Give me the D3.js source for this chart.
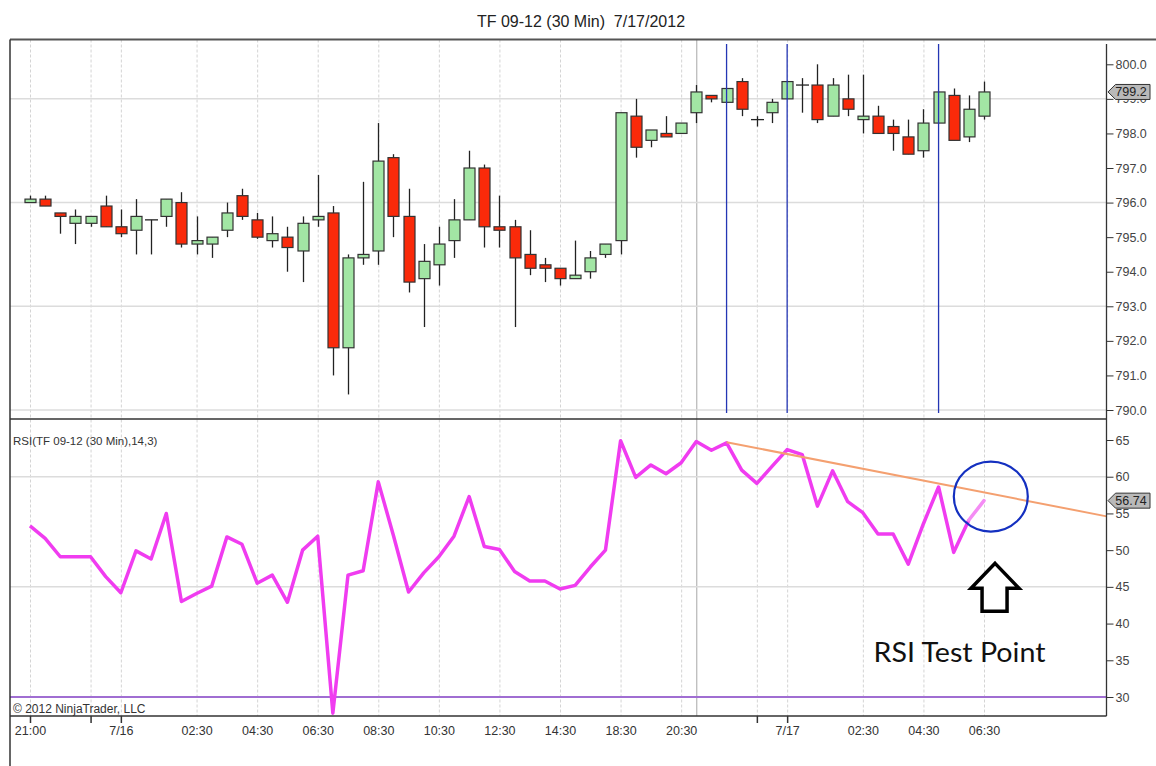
<!DOCTYPE html>
<html>
<head>
<meta charset="utf-8">
<script src="https://cdn.jsdelivr.net/npm/d3@7"></script>
<style>
  body { margin: 0; background: #fff; }
  svg { display: block; font-family: "Liberation Sans", Arial, sans-serif; }
</style>
</head>
<body>
<div class="svg"></div>
<script>
// bar times (30 min bars)
var times = ["21:00","21:30","22:00","22:30","23:00","23:30","00:00","00:30","01:00","01:30",
  "02:00","02:30","03:00","03:30","04:00","04:30","05:00","05:30","06:00","06:30",
  "07:00","07:30","08:00","08:30","09:00","09:30","10:00","10:30","11:00","11:30",
  "12:00","12:30","13:00","13:30","14:00","14:30","15:00","15:15","18:00","18:30",
  "19:00","19:30","20:00","20:30","21:00","21:30","22:00","22:30","23:00","23:30",
  "00:00","00:30","01:00","01:30","02:00","02:30","03:00","03:30","04:00","04:30",
  "05:00","05:30","06:00","06:30"];

var opens = [796.0,796.1,795.7,795.4,795.4,795.9,795.3,795.2,795.5,795.6,
  796.0,794.8,794.8,795.2,796.2,795.5,794.9,795.0,794.6,795.5,
  795.7,791.8,794.4,794.6,797.3,795.6,793.8,794.2,794.9,795.5,
  797.0,795.3,795.3,794.5,794.2,794.1,793.8,794.0,794.5,794.9,
  798.5,797.8,798.0,798.0,798.6,799.1,798.9,799.5,798.4,798.6,
  799.0,799.4,799.4,798.5,799.0,798.4,798.5,798.2,797.9,797.5,
  798.3,799.1,797.9,798.5];

var highs = [796.2,796.2,795.7,795.8,795.6,796.2,795.8,796.1,795.5,796.1,
  796.3,795.6,795.0,796.0,796.4,795.7,795.6,795.3,795.6,796.8,
  795.9,794.5,796.6,798.3,797.4,796.4,794.8,795.3,796.1,797.5,
  797.1,796.2,795.5,795.2,794.4,794.1,794.9,794.6,794.8,798.6,
  799.0,798.1,798.5,798.3,799.4,799.1,799.3,799.6,798.5,799.0,
  799.5,799.6,800.0,799.6,799.7,799.7,798.8,798.4,798.4,798.7,
  799.2,799.3,799.1,799.5];

var lows = [796.0,795.9,795.1,794.8,795.3,795.3,795.0,794.5,794.5,795.3,
  794.7,794.5,794.4,795.0,795.5,794.95,794.7,794.0,793.7,795.3,
  791.0,790.45,794.2,794.2,795.0,793.4,792.4,793.6,794.4,795.5,
  794.7,794.7,792.4,793.9,793.7,793.6,793.8,793.8,794.4,794.5,
  797.3,797.6,797.9,798.0,798.3,798.9,798.9,798.5,798.2,798.3,
  799.0,798.6,798.3,798.5,798.5,798.0,798.0,797.5,797.4,797.3,
  798.3,797.8,797.75,798.4];

var closes = [796.1,795.9,795.6,795.6,795.6,795.3,795.1,795.6,795.5,796.1,
  794.8,794.9,795.0,795.7,795.6,795.0,795.1,794.7,795.4,795.6,
  791.8,794.4,794.5,797.2,795.6,793.7,794.3,794.8,795.5,797.0,
  795.3,795.2,794.4,794.1,794.1,793.8,793.9,794.4,794.8,798.6,
  797.6,798.1,797.9,798.3,799.2,799.0,799.3,798.7,798.4,798.9,
  799.5,799.4,798.4,799.4,798.7,798.5,798.0,798.0,797.4,798.3,
  799.2,797.8,798.7,799.2];

var rsi = [53.3,51.6,49.1,49.1,49.1,46.4,44.2,49.9,48.8,55.0,
  43.0,44.1,45.1,51.8,50.8,45.5,46.6,42.9,50.0,51.9,
  27.8,46.6,47.2,59.3,52.0,44.3,46.9,49.1,51.9,57.3,
  50.5,50.1,47.1,45.8,45.8,44.7,45.2,47.7,50.0,64.9,
  59.9,61.6,60.4,61.9,64.8,63.6,64.6,60.9,59.1,61.4,
  63.7,63.0,56.0,60.8,56.6,55.1,52.2,52.2,48.1,53.6,
  58.6,49.7,54.1,56.74];

// axis ticks
var xTickIdx = [0,6,11,15,19,23,27,31,35,39,43,50,55,59,63];
var xTickLabels = ["21:00","7/16","02:30","04:30","06:30","08:30","10:30","12:30","14:30","18:30","20:30","7/17","02:30","04:30","06:30"];
var xMarkIdx = [0,4,6,48,50];
var xGridIdx = [0,4,6,11,15,19,23,27,31,35,39,43,48,50,55,59,63];
var sessionIdx = [44];
var priceTicks = [790,791,792,793,794,795,796,797,798,799,800];
var priceGrid = [790,793,796,799];
var rsiTicks = [30,35,40,45,50,55,60,65];
var rsiGrid = [45,60];

// drawings
var blueLines = [46,50,60];
var trendLine = [[46,64.7],[71.1,54.6]];
var circleAt = [63.45,57.3];
var arrowAt = [63.73,48.2];
var noteAt = [55.7,34.8];
var noteText = "RSI Test Point";

window.onload = function() {
  var d3 = window.d3;
  var w = 1156, h = 766;
  var left = 10, axisX = 1106.5;
  var priceTop = 39.5, priceBottom = 419, rsiBottom = 716;

  var bars = times.map(function(t, i) {
    return {i: i, time: t, open: opens[i], high: highs[i], low: lows[i], close: closes[i], rsi: rsi[i]};
  });

  var svg = d3.select(".svg").append("svg").attr("width", w).attr("height", h);

  var x = d3.scaleLinear().domain([0, 63]).range([30, 984]);
  var yPrice = d3.scaleLinear().domain([790, 800]).range([410, 64.3]);
  var yRsi = d3.scaleLinear().domain([30, 65]).range([697, 440]);

  // title
  svg.append("text").attr("x", 581).attr("y", 27).attr("text-anchor", "middle")
     .attr("font-size", "16px").attr("fill", "#222").text("TF 09-12 (30 Min)\u00a0 7/17/2012");

  // grid
  var grid = svg.append("g");
  grid.selectAll(".vgrid").data(xGridIdx).enter().append("line")
      .attr("x1", function(d) { return x(d) + 0.5; }).attr("x2", function(d) { return x(d) + 0.5; })
      .attr("y1", priceTop).attr("y2", rsiBottom)
      .attr("stroke", "#d4d4d4").attr("stroke-dasharray", "3,2");
  grid.selectAll(".sgrid").data(sessionIdx).enter().append("line")
      .attr("x1", function(d) { return x(d) + 0.5; }).attr("x2", function(d) { return x(d) + 0.5; })
      .attr("y1", priceTop).attr("y2", rsiBottom)
      .attr("stroke", "#a8a8a8");
  grid.selectAll(".pgrid").data(priceGrid).enter().append("line")
      .attr("x1", left).attr("x2", axisX)
      .attr("y1", function(d) { return yPrice(d); }).attr("y2", function(d) { return yPrice(d); })
      .attr("stroke", "#dcdcdc").attr("stroke-width", 1.5);
  grid.selectAll(".rgrid").data(rsiGrid).enter().append("line")
      .attr("x1", left).attr("x2", axisX)
      .attr("y1", function(d) { return yRsi(d); }).attr("y2", function(d) { return yRsi(d); })
      .attr("stroke", "#dcdcdc").attr("stroke-width", 1.5);

  // candles
  var candle = svg.append("g").selectAll(".bar").data(bars).enter().append("g").attr("class", "bar");
  candle.append("line")
        .attr("x1", function(d) { return Math.round(x(d.i)) + 0.5; })
        .attr("x2", function(d) { return Math.round(x(d.i)) + 0.5; })
        .attr("y1", function(d) { return yPrice(d.high); })
        .attr("y2", function(d) { return yPrice(d.low); })
        .attr("stroke", "#222").attr("stroke-width", 1.3);
  candle.append("rect")
        .attr("x", function(d) { return Math.round(x(d.i)) - 5; })
        .attr("width", 11)
        .attr("y", function(d) { return yPrice(Math.max(d.open, d.close)); })
        .attr("height", function(d) { return Math.max(1, yPrice(Math.min(d.open, d.close)) - yPrice(Math.max(d.open, d.close))); })
        .attr("fill", function(d) { return d.close > d.open ? "#a2e6a4" : (d.close < d.open ? "#fa2a0a" : "none"); })
        .attr("stroke", function(d) { return d.close === d.open ? "none" : "#333"; })
        .attr("stroke-width", 1.2);
  candle.filter(function(d) { return d.close === d.open; }).append("line")
        .attr("x1", function(d) { return Math.round(x(d.i)) - 6; })
        .attr("x2", function(d) { return Math.round(x(d.i)) + 7; })
        .attr("y1", function(d) { return yPrice(d.close); })
        .attr("y2", function(d) { return yPrice(d.close); })
        .attr("stroke", "#222").attr("stroke-width", 1.3);

  // blue vertical lines
  svg.append("g").selectAll("line").data(blueLines).enter().append("line")
     .attr("x1", function(d) { return x(d); }).attr("x2", function(d) { return x(d); })
     .attr("y1", 44).attr("y2", 413)
     .attr("stroke", "#2436b4").attr("stroke-width", 1.3);

  // rsi 30 line
  svg.append("line").attr("x1", left).attr("x2", axisX)
     .attr("y1", yRsi(30)).attr("y2", yRsi(30))
     .attr("stroke", "#a06ed2").attr("stroke-width", 2);

  // rsi line
  var line = d3.line().x(function(d) { return x(d.i); }).y(function(d) { return yRsi(d.rsi); });
  svg.append("path").datum(bars.slice(0, 63)).attr("d", line)
     .attr("fill", "none").attr("stroke", "#f03cf0").attr("stroke-width", 3.5)
     .attr("stroke-linejoin", "round");
  svg.append("path").datum(bars.slice(62)).attr("d", line)
     .attr("fill", "none").attr("stroke", "#f48cf4").attr("stroke-width", 3.5)
     .attr("stroke-linecap", "round");

  // trend line
  svg.append("line")
     .attr("x1", x(trendLine[0][0])).attr("y1", yRsi(trendLine[0][1]))
     .attr("x2", x(trendLine[1][0])).attr("y2", yRsi(trendLine[1][1]))
     .attr("stroke", "#f4a070").attr("stroke-width", 2);

  // circle + arrow + note
  svg.append("ellipse").attr("cx", x(circleAt[0])).attr("cy", yRsi(circleAt[1]))
     .attr("rx", 37).attr("ry", 35)
     .attr("fill", "none").attr("stroke", "#1430c0").attr("stroke-width", 2.2);

  var ax = x(arrowAt[0]), ay = yRsi(arrowAt[1]);
  var arrowPts = [[0,0],[24,25],[12,25],[12,48],[-13,48],[-13,25],[-24,25]];
  svg.append("polygon")
     .attr("points", arrowPts.map(function(p) { return (ax + p[0]) + "," + (ay + p[1]); }).join(" "))
     .attr("fill", "#fff").attr("stroke", "#000").attr("stroke-width", 3.5)
     .attr("stroke-linejoin", "miter");

  svg.append("text").attr("x", x(noteAt[0])).attr("y", yRsi(noteAt[1]))
     .attr("font-family", "Lato, 'Open Sans', sans-serif").attr("font-size", "26px")
     .attr("textLength", 172).attr("lengthAdjust", "spacingAndGlyphs")
     .attr("fill", "#111").text(noteText);

  // frame
  svg.append("line").attr("x1", left).attr("x2", w).attr("y1", priceTop).attr("y2", priceTop)
     .attr("stroke", "#555").attr("stroke-width", 2);
  svg.append("line").attr("x1", left).attr("x2", left).attr("y1", priceTop).attr("y2", h)
     .attr("stroke", "#333").attr("stroke-width", 1.5);
  svg.append("line").attr("x1", left).attr("x2", axisX).attr("y1", priceBottom).attr("y2", priceBottom)
     .attr("stroke", "#333").attr("stroke-width", 1.3);
  svg.append("line").attr("x1", left).attr("x2", axisX).attr("y1", rsiBottom).attr("y2", rsiBottom)
     .attr("stroke", "#333").attr("stroke-width", 1.3);
  svg.append("line").attr("x1", axisX).attr("x2", axisX).attr("y1", 44).attr("y2", rsiBottom)
     .attr("stroke", "#333").attr("stroke-width", 1.3);

  // right axes
  var priceAxis = d3.axisRight(yPrice).tickValues(priceTicks).tickFormat(d3.format(".1f")).tickSize(7).tickPadding(2);
  var gp = svg.append("g").attr("transform", "translate(" + axisX + ",0)").call(priceAxis);
  var rsiAxis = d3.axisRight(yRsi).tickValues(rsiTicks).tickSize(7).tickPadding(2);
  var gr = svg.append("g").attr("transform", "translate(" + axisX + ",0)").call(rsiAxis);
  [gp, gr].forEach(function(g) {
    g.select(".domain").remove();
    g.selectAll("line").attr("stroke", "#333");
    g.selectAll("text").attr("font-size", "12.5px").attr("fill", "#444")
     .attr("font-family", "'Liberation Sans', Arial, sans-serif");
  });

  // bottom axis
  var xAxis = d3.axisBottom(x).tickValues(xTickIdx).tickSize(0).tickPadding(10)
                .tickFormat(function(d, k) { return xTickLabels[k]; });
  var gx = svg.append("g").attr("transform", "translate(0," + rsiBottom + ")").call(xAxis);
  gx.select(".domain").remove();
  gx.selectAll("text").attr("font-size", "12.5px").attr("fill", "#333")
    .attr("font-family", "'Liberation Sans', Arial, sans-serif");
  var xMarks = d3.axisBottom(x).tickValues(xMarkIdx).tickSize(7).tickFormat("");
  var gm = svg.append("g").attr("transform", "translate(0," + rsiBottom + ")").call(xMarks);
  gm.select(".domain").remove();
  gm.selectAll("line").attr("stroke", "#333").attr("stroke-width", 1.5);

  // value tags
  function tag(yv, label) {
    var g = svg.append("g");
    g.append("polygon")
     .attr("points", [[axisX + 1.5, yv], [axisX + 9, yv - 7.5], [1150, yv - 7.5], [1150, yv + 7.5], [axisX + 9, yv + 7.5]].join(" "))
     .attr("fill", "#b9b9b9").attr("stroke", "#333");
    g.append("text").attr("x", 1131).attr("y", yv + 4.5).attr("text-anchor", "middle")
     .attr("font-size", "12.5px").attr("fill", "#222").text(label);
  }
  tag(yPrice(closes[63]), d3.format(".1f")(closes[63]));
  tag(yRsi(rsi[63]), d3.format(".2f")(rsi[63]));

  // labels
  svg.append("text").attr("x", 13).attr("y", 445).attr("font-size", "11.5px").attr("fill", "#333")
     .text("RSI(TF 09-12 (30 Min),14,3)");
  svg.append("text").attr("x", 13).attr("y", 713).attr("font-size", "12px").attr("fill", "#333")
     .text("\u00a9 2012 NinjaTrader, LLC");
};
</script>
</body>
</html>
